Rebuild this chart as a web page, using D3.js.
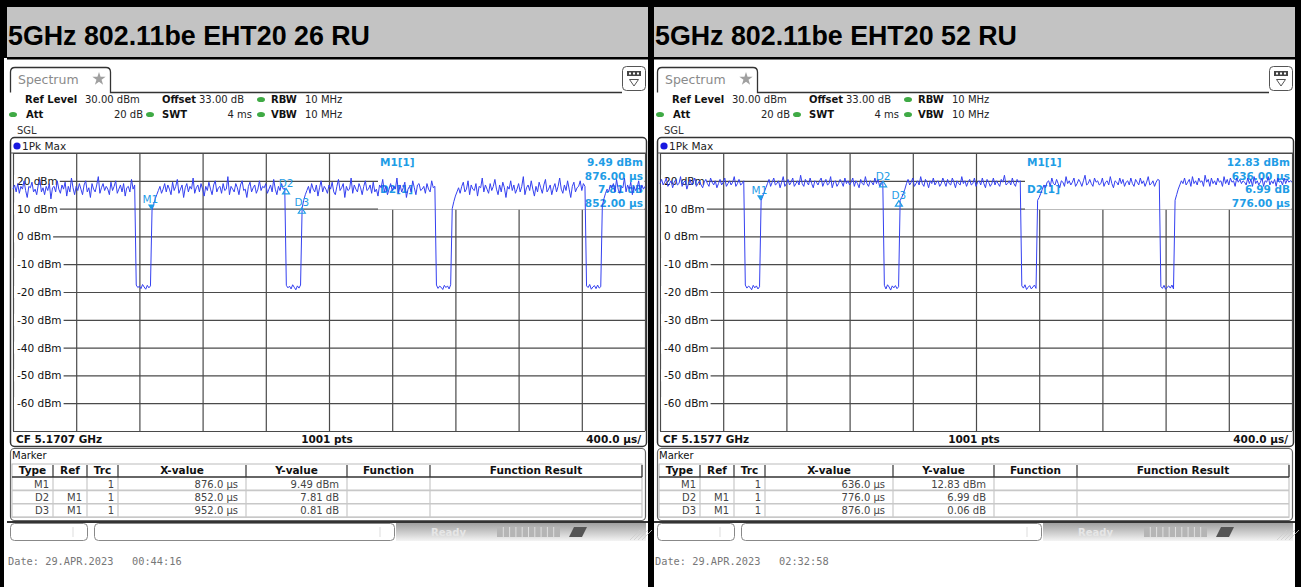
<!DOCTYPE html>
<html><head><meta charset="utf-8">
<script src="https://cdn.jsdelivr.net/npm/d3@7"></script>
<style>body{margin:0;background:#000;}svg{display:block}</style>
</head><body>
<svg id="c" width="1301" height="587"></svg>
<script>
// ---------------- data ----------------
const titles = ["5GHz 802.11be EHT20 26 RU", "5GHz 802.11be EHT20 52 RU"];
const centerFreqs = ["CF 5.1707 GHz", "CF 5.1577 GHz"];
const pointsLabel = "1001 pts";
const spanLabel = "400.0 µs/";
const dates = ["Date: 29.APR.2023   00:44:16", "Date: 29.APR.2023   02:32:58"];
const setupLabels = ["Ref Level", "Offset", "RBW", "Att", "SWT", "VBW"];
const setupValues = ["30.00 dBm", "33.00 dB", "10 MHz", "20 dB", "4 ms", "10 MHz"];
const yTicks = [20, 10, 0, -10, -20, -30, -40, -50, -60];
const yGrid = [30, 20, 10, 0, -10, -20, -30, -40, -50, -60, -70];
const xGrid = [0, 400, 800, 1200, 1600, 2000, 2400, 2800, 3200, 3600, 4000]; // µs
const sampleStep = 10; // µs between trace samples (0 … 4000 µs)
const traceA = [
 17,18.5,16,19,15.5,18,17,20,16.5,14,18,17.5,19.5,16,17,15,18.5,20.5,16,17.5,
 15,18,16.5,19,13.5,17.5,18,16,20,17,15.5,18.5,17,19.5,14.5,18,16,21,17.5,15,
 18,16.5,19,17,15,18.5,20,16,17.5,14,19,17,16,18.5,21.5,15.5,17.5,19,16.5,18,
 17,15,19.5,16.5,18,20,15.5,17,18.5,16,19,14.5,17.5,18,16,20.5,17,18.5,-17.5,-18.4,
 -17.9,-18.8,-17.3,-18.2,-19,-17.6,-18.5,-17.8,9.5,11.5,13.5,15,16.5,18,15.5,17,19,16,18.5,17,
 15,19.5,16.5,18,20.5,15.5,17,18.5,14,17.5,19,16,18,17,21,15.5,17.5,18.5,16,19,
 17,14.5,18,16.5,19.5,17,15,18.5,20,16,17.5,18,15.5,19,16.5,17,21.5,15,18,17,
 16,19,17.5,15,18.5,20,16.5,17,14,18,19.5,16,17.5,18.5,15.5,17,20,16.5,18,17.5,
 19,15.5,17,18.5,16,20.5,17,15,18,16.5,19,17,17.3,-17.6,-18.5,-17.9,-18.9,-17.4,-18.3,-19.2,
 -17.8,-18.6,-17.5,10.3,13,15,16.5,18,15.5,19,17,16,18.5,14.5,17.5,20,16,18,17,15.5,
 18.5,17,19.5,16,15,18,20.5,16.5,17.5,19,14,18,16.5,17,21,15.5,18.5,17,16,19,
 17.5,15,18,20,16.5,17,18.5,15.5,19.5,16,17,14.5,18.5,17.5,20.5,16,18,15,17,19,
 16.5,18,17,21,15.5,18.5,16,17.5,19.5,14,17,18,16,20,17.5,15,18.5,19,16.5,17,
 18,15.5,19,17,16,20,17.5,18,-17.5,-18.7,-17.9,-18.3,-19.1,-17.6,-18.4,-17.8,-18.9,-17.4,10,12.5,
 14.5,16,17.5,15.5,18,19.5,16,17,20,15,18.5,17,16.5,19,14.5,18,17.5,21,16,18.5,
 17,15.5,19,16.5,18,20.5,17,15,18.5,16,19.5,17.5,14,18,17,20,16.5,18.5,15.5,17,
 19,16,18,21.5,15,17.5,18.5,16.5,20,17,14.5,18,16,19.5,17.5,15.5,18.5,20.5,16,17,
 18.5,15,17.5,19,16,18,21,17,15.5,18.5,16.5,20,17,14,18,19.5,16,17.5,18,20,
 16.5,19,18,-17.8,-18.4,-17.3,-19.0,-18.2,-17.7,-18.8,-17.5,-18.6,-18.1,11,13.5,15.5,17,16,18.5,17.5,
 19,16,20.5,17,15.5,18,17.5,21,16,18.5,17,19.5,15,18,16.5,17.5,20,16,18.5,17,
 18
];
const traceB = [
 19,20.5,18.5,19.5,21,18,19,20,17.5,19.5,20.5,18.5,19,21.5,18,19.5,20,17,19,20.5,
 18.5,19.5,21,18,19,20,18.5,17.5,19.5,20.5,19,18,21,19.5,18.5,20,17.5,19,20.5,18.5,
 19.5,21,18,19,20,18.5,19.5,21.5,18,19,20.5,18.5,19,20,-17.5,-18.6,-17.9,-18.3,-19.2,-17.6,
 -18.5,-17.8,-18.9,-18.1,12.8,14.5,16,17.5,19,20.5,18,19.5,21,18.5,19,20,17.5,19.5,21.5,18,
 19,20.5,18.5,19.5,21,18,19,20,18.5,22,19,18,20.5,19.5,18.5,21,19,17.5,20,19.5,
 18.5,20,21,18,19.5,20.5,18.5,19,21.5,17.5,19.5,20,18,19,20.5,19.5,18,21,19,20,
 18.5,19.5,21,18,20,19,17.5,20.5,19,18.5,21.5,19,18,20,19.5,18.5,21,19,20.5,18,
 19.5,19.8,-17.6,-18.9,-17.4,-18.2,-19.3,-17.8,-18.5,-17.7,-18.8,-18.1,12.9,14,15.5,17,19,20.5,18.5,19.5,
 21,18,19,20,18.5,21.5,19,18,20.5,19.5,17.5,20,19,21,18.5,19.5,20,18,19,21,
 19.5,18,20.5,19,18.5,21,19.5,17.5,20,19,18.5,21.5,19,20,18,19.5,20.5,18.5,19,21,
 18,19.5,20,18.5,21,19,17.5,20.5,19.5,18,19,21,18.5,20,19,18,20.5,19.5,22,18.5,
 19,20,18.5,21,19,18,20.5,19.5,20,-17.8,-18.6,-17.4,-19.1,-18.3,-17.7,-18.9,-18.2,-17.5,-18.7,13,
 14,15.5,17,18.5,17.5,19.5,20,18,21,19,18.5,20.5,19,17.5,20,19.5,18,21.5,19,20,
 18.5,19.5,21,18,19,20.5,19.5,18,20,22,18.5,19,20.5,19,18,21,19.5,20,18.5,19,
 21,18,19.5,20,18.5,21.5,19,17.5,20,19.5,18.5,21,19,20.5,18,19.5,20,18.5,21,19,
 18,20.5,19.5,18.5,21,19,20,18,19.5,21.5,18.5,19,20,18,19.5,20.5,20.2,-18.0,-18.7,-17.6,
 -19.0,-18.3,-17.8,-18.6,-17.5,-18.9,13,15,17,18.5,20,19,21,18.5,19.5,20.5,18,21.5,19,20,
 18.5,21,19.5,20,18,22,19.5,20.5,18,21,19,20,18.5,21,19.5,20,18,21.5,19,20.5,
 18.5,21,19.5,20,18,21,19.5,20.5,19,20,19.5,18.5,21,19,20.5,18,21.5,19,20,18.5,
 19.5,21,18,20,19.5,21.5,18.5,20,19,20.5,18,21,19.5,20,18.5,21,19,20.5,19.5,20,
 19.5
];
const markersA = [
 {id: "M1", t: 876, v: 9.49, kind: "down"},
 {id: "D2", t: 1728, v: 17.30, kind: "up"},
 {id: "D3", t: 1828, v: 10.30, kind: "up"}
];
const markersB = [
 {id: "M1", t: 636, v: 12.83, kind: "down"},
 {id: "D2", t: 1412, v: 19.82, kind: "up"},
 {id: "D3", t: 1512, v: 12.89, kind: "up"}
];
const infoA = [["M1[1]", "9.49 dBm", "876.00 µs"], ["D2[1]", "7.81 dB", "852.00 µs"]];
const infoB = [["M1[1]", "12.83 dBm", "636.00 µs"], ["D2[1]", "6.99 dB", "776.00 µs"]];
const tableHead = ["Type", "Ref", "Trc", "X-value", "Y-value", "Function", "Function Result"];
const tableA = [
 ["M1", "", "1", "876.0 µs", "9.49 dBm", "", ""],
 ["D2", "M1", "1", "852.0 µs", "7.81 dB", "", ""],
 ["D3", "M1", "1", "952.0 µs", "0.81 dB", "", ""]
];
const tableB = [
 ["M1", "", "1", "636.0 µs", "12.83 dBm", "", ""],
 ["D2", "M1", "1", "776.0 µs", "6.99 dB", "", ""],
 ["D3", "M1", "1", "876.0 µs", "0.06 dB", "", ""]
];

// ---------------- drawing ----------------
const W = 1301, H = 587;
const FONT = "DejaVu Sans, Verdana, sans-serif";
const svg = d3.select("#c");
svg.append("rect").attr("width", W).attr("height", H).attr("fill", "#000");

const defs = svg.append("defs");
const gr = defs.append("linearGradient").attr("id", "stat").attr("x1", 0).attr("y1", 0).attr("x2", 0).attr("y2", 1);
gr.append("stop").attr("offset", "0%").attr("stop-color", "#a0a0a0");
gr.append("stop").attr("offset", "100%").attr("stop-color", "#f4f4f4");

function txt(g, x, y, s, o = {}) {
  return g.append("text").attr("x", x).attr("y", y)
    .attr("font-family", o.family || FONT)
    .attr("font-size", o.size || 10.5)
    .attr("font-weight", o.bold ? "bold" : "normal")
    .attr("fill", o.fill || "#111")
    .attr("text-anchor", o.anchor || "start")
    .attr("xml:space", "preserve")
    .style("white-space", "pre")
    .text(s);
}

function drawPanel(k, ox, trace, markers, info, rows) {
  const g = svg.append("g").attr("transform", `translate(${ox},0)`);
  // frame / title
  g.append("rect").attr("x", k === 0 ? 4 : 7).attr("y", 58).attr("width", k === 0 ? 644 : 641).attr("height", H - 58).attr("fill", "#fff");
  g.append("rect").attr("x", 7).attr("y", 7).attr("width", 641).attr("height", 50).attr("fill", "#c3c3c3");
  g.append("rect").attr("x", 7).attr("y", 57).attr("width", 641).attr("height", 2.5).attr("fill", "#000");
  txt(g, 8, 45, titles[k], {family: "Liberation Sans, Arial, sans-serif", size: 26.8, bold: true, fill: "#000"});

  // tab
  g.append("path").attr("d", "M10.5,92.5 V72 Q10.5,67.5 15,67.5 H106 Q110.5,67.5 110.5,72 V92.5 H622")
    .attr("fill", "none").attr("stroke", "#333").attr("stroke-width", 1.3);
  txt(g, 18, 84, "Spectrum", {size: 12.5, fill: "#8a8a8a"});
  g.append("path").attr("d", d3.symbol(d3.symbolStar).size(55)()).attr("transform", "translate(99,79)").attr("fill", "#a0a0a0");
  // icon top right
  g.append("rect").attr("x", 622.5).attr("y", 66.5).attr("width", 23).attr("height", 24).attr("rx", 4)
    .attr("fill", "#fff").attr("stroke", "#555").attr("stroke-width", 1);
  g.append("rect").attr("x", 627).attr("y", 71).attr("width", 14).attr("height", 5).attr("fill", "#444");
  [629, 633, 637].forEach(px => g.append("rect").attr("x", px).attr("y", 72.5).attr("width", 2).attr("height", 2).attr("fill", "#fff"));
  g.append("path").attr("d", "M629.5,79.5 H638.5 L634,86 Z").attr("fill", "none").attr("stroke", "#555");

  // setup rows
  const lx = [25, 162, 271, 26, 162, 271], ly = [103, 103, 103, 118, 118, 118];
  setupLabels.forEach((s, i) => txt(g, lx[i], ly[i], s, {bold: true, fill: "#111", size: 10}));
  const vx = [85, 199, 305, 143, 252, 305], va = ["start", "start", "start", "end", "end", "start"];
  setupValues.forEach((s, i) => txt(g, vx[i], ly[i], s, {anchor: va[i], fill: "#222", size: 10}));
  [[261, 99.5], [13, 114.5], [150, 114.5], [261, 114.5]].forEach(p =>
    g.append("ellipse").attr("cx", p[0]).attr("cy", p[1]).attr("rx", 4).attr("ry", 2.6).attr("fill", "#3faa45"));
  txt(g, 17, 134, "SGL", {fill: "#333", size: 10});

  // plot box
  g.append("rect").attr("x", 10.5).attr("y", 137.5).attr("width", 636).attr("height", 309).attr("rx", 4)
    .attr("fill", "#fff").attr("stroke", "#333").attr("stroke-width", 1.5);
  g.append("circle").attr("cx", 17).attr("cy", 146).attr("r", 3.6).attr("fill", "#1818e0");
  txt(g, 22, 150, "1Pk Max", {fill: "#222"});

  const x = d3.scaleLinear().domain([0, 4000]).range([13, 645]);
  const y = d3.scaleLinear().domain([-70, 30]).range([431, 153]);

  const vg = g.append("g").attr("transform", "translate(0,431)")
    .call(d3.axisBottom(x).tickValues(xGrid).tickSize(-(431 - 153)).tickFormat(""));
  const hg = g.append("g").attr("transform", "translate(13,0)")
    .call(d3.axisLeft(y).tickValues(yGrid).tickSize(-(645 - 13)).tickFormat(""));
  [vg, hg].forEach(a => {
    a.select(".domain").remove();
    a.selectAll("line").attr("stroke", "#4a4a4a").attr("stroke-width", 1.2);
  });
  g.append("line").attr("x1", 10.5).attr("x2", 646.5).attr("y1", 153).attr("y2", 153).attr("stroke", "#4a4a4a").attr("stroke-width", 1.2);

  // marker info box (hides grid)
  g.append("rect").attr("x", 378).attr("y", 154).attr("width", 266.5).attr("height", 55.5).attr("fill", "#fff");

  // y labels with white background
  yTicks.forEach(v => {
    const t = txt(g, 17, y(v) + 4, v + " dBm", {fill: "#111"});
    const w = t.node().getComputedTextLength();
    g.insert("rect", () => t.node()).attr("x", 14).attr("y", y(v) - 6).attr("width", w + 5).attr("height", 12).attr("fill", "#fff");
  });

  // marker info text
  const MC = "#1f9de6";
  info.forEach((r, i) => {
    txt(g, 380, 166 + i * 27, r[0], {bold: true, fill: MC});
    txt(g, 643, 166 + i * 27, r[1], {bold: true, fill: MC, anchor: "end"});
    txt(g, 643, 180 + i * 27, r[2], {bold: true, fill: MC, anchor: "end"});
  });

  // trace
  const line = d3.line().x((d, i) => x(i * sampleStep)).y(d => y(d));
  g.append("path").datum(trace).attr("d", line).attr("fill", "none")
    .attr("stroke", "#3440f0").attr("stroke-width", 1).attr("stroke-linejoin", "bevel");

  // markers
  markers.forEach(m => {
    const px = x(m.t), py = y(m.v);
    if (m.kind === "down") {
      g.append("path").attr("d", `M${px - 3.5},${py - 5.5} H${px + 3.5} L${px},${py} Z`).attr("fill", MC);
      txt(g, px - 1, py - 7, m.id, {fill: MC, anchor: "middle"});
    } else {
      g.append("path").attr("d", `M${px - 3.5},${py + 5.5} H${px + 3.5} L${px},${py} Z`).attr("fill", "none").attr("stroke", MC).attr("stroke-width", 1.2);
      txt(g, px, py - 1.5, m.id, {fill: MC, anchor: "middle"});
    }
  });

  // bottom of plot box
  txt(g, 16, 443, centerFreqs[k], {bold: true, fill: "#111"});
  txt(g, 327, 443, pointsLabel, {bold: true, fill: "#111", anchor: "middle"});
  txt(g, 641, 443, spanLabel, {bold: true, fill: "#111", anchor: "end"});

  // marker table
  g.append("rect").attr("x", 10.5).attr("y", 448.5).attr("width", 635).attr("height", 72).attr("rx", 4)
    .attr("fill", "#fff").attr("stroke", "#666").attr("stroke-width", 1.2);
  txt(g, 12, 459, "Marker", {fill: "#111", size: 10});
  const cols = [12, 53, 87, 118, 246, 347, 430, 642];
  const hy0 = 464, hy1 = 477, rh = 13.4;
  g.append("rect").attr("x", cols[0]).attr("y", hy0).attr("width", cols[7] - cols[0]).attr("height", hy1 - hy0 + rh * 3)
    .attr("fill", "#fff").attr("stroke", "#bbb");
  for (let r = 1; r <= 3; r++) {
    g.append("line").attr("x1", cols[0]).attr("x2", cols[7]).attr("y1", hy1 + rh * r).attr("y2", hy1 + rh * r).attr("stroke", "#c8c8c8").attr("stroke-width", 1.6);
  }
  cols.slice(1, 7).forEach(c => {
    g.append("line").attr("x1", c).attr("x2", c).attr("y1", hy1).attr("y2", hy1 + rh * 3).attr("stroke", "#c8c8c8").attr("stroke-width", 1.2);
    g.append("line").attr("x1", c).attr("x2", c).attr("y1", hy0 + 1).attr("y2", hy1).attr("stroke", "#333").attr("stroke-width", 1.2);
  });
  g.append("line").attr("x1", cols[7]).attr("x2", cols[7]).attr("y1", hy0 + 1).attr("y2", hy1).attr("stroke", "#333").attr("stroke-width", 1.2);
  g.append("line").attr("x1", cols[0]).attr("x2", cols[7]).attr("y1", hy1).attr("y2", hy1).attr("stroke", "#333").attr("stroke-width", 1.4);
  tableHead.forEach((h, i) => txt(g, (cols[i] + cols[i + 1]) / 2, hy1 - 3, h, {bold: true, fill: "#111", anchor: "middle", size: 10.5}));
  const pad = [4, 5, 4, 8, 8, 4, 4];
  rows.forEach((row, r) => {
    row.forEach((c, i) => {
      if (c) txt(g, cols[i + 1] - pad[i], hy1 + rh * r + 10.5, c, {fill: "#444", anchor: "end", size: 10});
    });
  });

  // status bar
  g.append("rect").attr("x", 7).attr("y", 521).attr("width", 641).attr("height", 2).attr("fill", "#333");
  g.append("rect").attr("x", 10.5).attr("y", 523.5).attr("width", 77).attr("height", 17).attr("rx", 4).attr("fill", "#fff").attr("stroke", "#888");
  g.append("line").attr("x1", 73).attr("x2", 73).attr("y1", 527).attr("y2", 537).attr("stroke", "#ddd");
  g.append("rect").attr("x", 94.5).attr("y", 523.5).attr("width", 300).attr("height", 17).attr("rx", 4).attr("fill", "#fff").attr("stroke", "#888");
  g.append("line").attr("x1", 380).attr("x2", 380).attr("y1", 527).attr("y2", 537).attr("stroke", "#ddd");
  g.append("rect").attr("x", 396).attr("y", 523).attr("width", 250).attr("height", 18).attr("fill", "url(#stat)");
  txt(g, 431, 536, "Ready", {fill: "#e6e6e6", size: 10, bold: true});
  g.append("rect").attr("x", 497).attr("y", 527).attr("width", 63).attr("height", 10).attr("fill", "#b5b5b5");
  for (let i = 1; i < 10; i++) g.append("line").attr("x1", 497 + i * 6.3).attr("x2", 497 + i * 6.3).attr("y1", 527).attr("y2", 537).attr("stroke", "#e0e0e0");
  g.append("path").attr("d", "M569,537 L574,527 H587 L582,537 Z").attr("fill", "#555");
  for (let i = 0; i < 4; i++) g.append("line").attr("x1", 630 + i * 4).attr("x2", 640 + i * 4).attr("y1", 540).attr("y2", 530).attr("stroke", "#ccc").attr("stroke-width", 0.8);

  txt(g, 8, 565, dates[k], {family: "DejaVu Sans Mono, monospace", size: 10.3, fill: "#777"});
}

drawPanel(0, 0, traceA, markersA, infoA, tableA);
drawPanel(1, 647, traceB, markersB, infoB, tableB);
</script>
</body></html>
